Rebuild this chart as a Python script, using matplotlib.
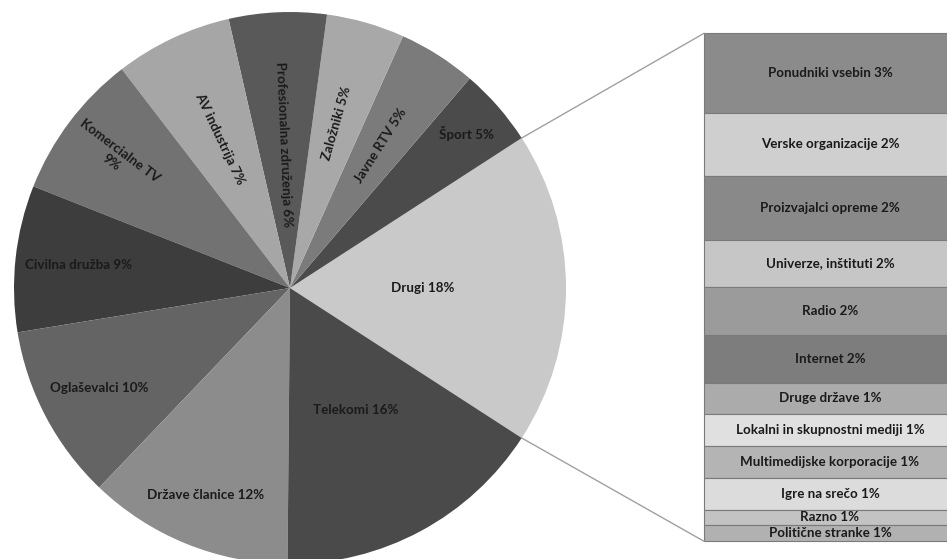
import numpy as np
import matplotlib
matplotlib.use("Agg")
import matplotlib.pyplot as plt

# Respondent counts per stakeholder group (main pie)
pie_labels = ["Drugi", "Šport", "Javne RTV", "Založniki", "Profesionalna združenja",
              "AV industrija", "Komercialne TV", "Civilna družba", "Oglaševalci",
              "Države članice", "Telekomi"]
pie_values = [32, 8, 8, 8, 10, 12, 15, 15, 18, 21, 28]

# Breakdown of the "Drugi" group (stacked bar, top to bottom)
bar_labels = ["Ponudniki vsebin", "Verske organizacije", "Proizvajalci opreme",
              "Univerze, inštituti", "Radio", "Internet", "Druge države",
              "Lokalni in skupnostni mediji", "Multimedijske korporacije",
              "Igre na srečo", "Razno", "Politične stranke"]
bar_values = [5, 4, 4, 3, 3, 3, 2, 2, 2, 2, 1, 1]

total = sum(pie_values)

# ---- styling ----
pie_colors = ["#c9c9c9", "#4b4b4b", "#7b7b7b", "#a8a8a8", "#595959", "#a6a6a6",
              "#727272", "#3d3d3d", "#646464", "#8c8c8c", "#4a4a4a"]
bar_colors = ["#8b8b8b", "#cfcfcf", "#898989", "#c6c6c6", "#9b9b9b", "#7d7d7d",
              "#ababab", "#e0e0e0", "#b4b4b4", "#dcdcdc", "#c3c3c3", "#b1b1b1"]
label_r = [0.48, 0.85, 0.61, 0.62, 0.52, 0.60, 0.79, 0.77, 0.78, 0.81, 0.50]
radial = [False, False, True, True, True, True, True, False, False, False, False]
label_wrap = {"Komercialne TV": "Komercialne TV\n"}

W, H = 947, 559
cx, cy, R = 290, 271, 276
bar_left, bar_right = 704, 956
bar_top, bar_bottom = 525.7, 17.7

FONT = dict(family="Lato", weight="bold", color="#1a1a1a", fontsize=9.6)

fig = plt.figure(figsize=(W / 100, H / 100), dpi=100)
ax = fig.add_axes([0, 0, 1, 1])

start = -0.5 * pie_values[0] / total * 360
wedges, _ = ax.pie(pie_values, colors=pie_colors, startangle=start,
                   counterclock=True, center=(cx, cy), radius=R,
                   wedgeprops=dict(edgecolor="none", linewidth=0))

for w, name, v, rf, rad in zip(wedges, pie_labels, pie_values, label_r, radial):
    mid = 0.5 * (w.theta1 + w.theta2)
    a = np.deg2rad(mid)
    x = cx + rf * R * np.cos(a)
    y = cy + rf * R * np.sin(a)
    pct = f"{round(100 * v / total)}%"
    if name in label_wrap:
        text = label_wrap[name] + pct
    else:
        text = f"{name} {pct}"
    rot = 0
    if rad:
        m = mid % 360
        rot = m - 180 if 90 < m < 270 else m
    ax.text(x, y, text, ha="center", va="center", rotation=rot,
            rotation_mode="anchor", multialignment="center", **FONT)

# stacked bar for the "Drugi" breakdown
scale = (bar_top - bar_bottom) / sum(bar_values)
y_cur = bar_top
for name, v, c in zip(bar_labels, bar_values, bar_colors):
    h = v * scale
    ax.bar((bar_left + bar_right) / 2, h, width=bar_right - bar_left,
           bottom=y_cur - h, color=c, edgecolor="#7a7a7a", linewidth=0.8)
    ax.text(830, y_cur - h / 2, f"{name} {round(100 * v / total)}%",
            ha="center", va="center", **FONT)
    y_cur -= h

# connector lines from the "Drugi" wedge edges to the bar corners
dw = wedges[0]
for ang, by in ((dw.theta2, bar_top), (dw.theta1, bar_bottom)):
    a = np.deg2rad(ang)
    ax.plot([cx + R * np.cos(a), bar_left], [cy + R * np.sin(a), by],
            color="#a0a0a0", linewidth=1.0)

ax.set_xlim(0, W)
ax.set_ylim(0, H)
ax.set_aspect("equal")
ax.axis("off")
fig.savefig("out.png", dpi=100)
